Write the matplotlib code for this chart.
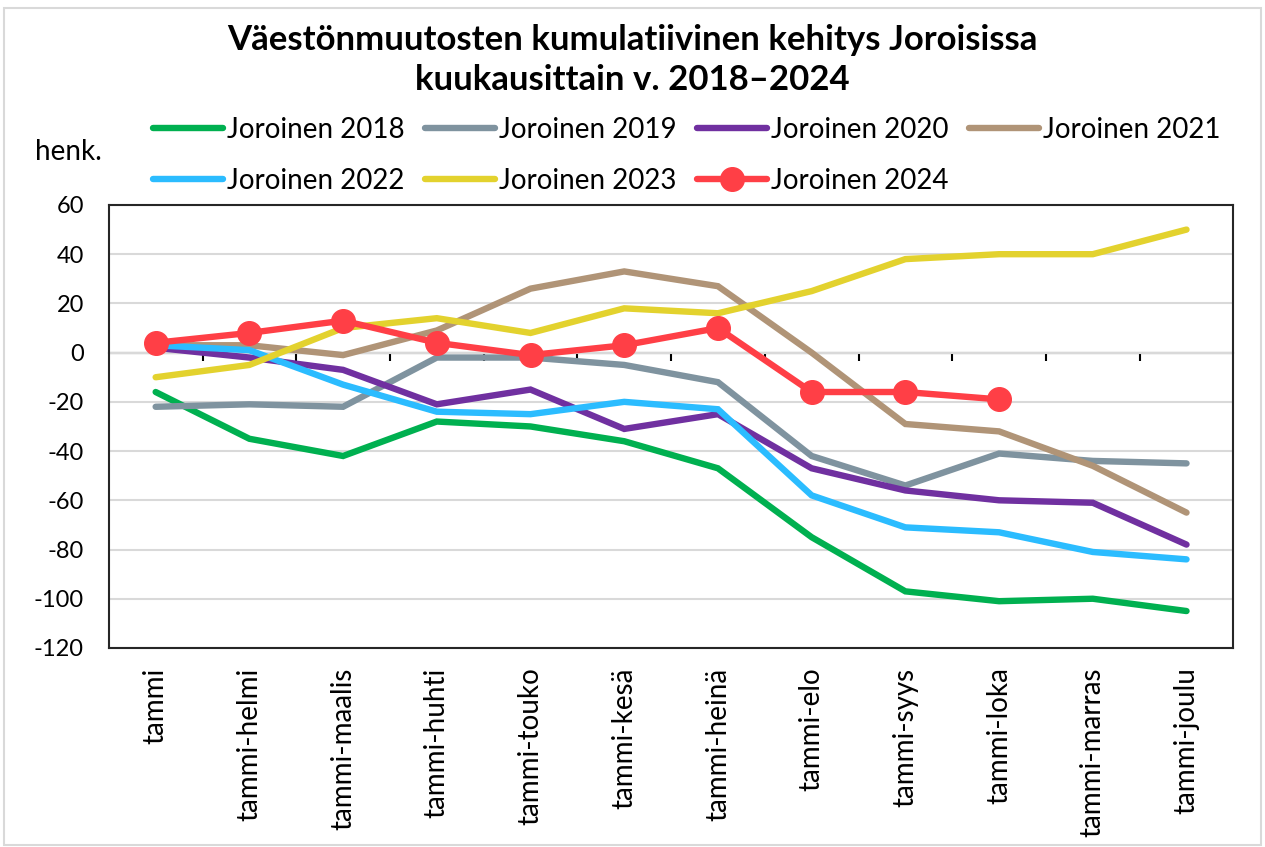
import numpy as np
import matplotlib.pyplot as plt
from matplotlib.patches import Rectangle

plt.rcParams['font.family'] = ['Lato', 'DejaVu Sans']

# kuukaudet (kumulatiivinen)
months = ['tammi', 'tammi-helmi', 'tammi-maalis', 'tammi-huhti', 'tammi-touko',
          'tammi-kesä', 'tammi-heinä', 'tammi-elo', 'tammi-syys', 'tammi-loka',
          'tammi-marras', 'tammi-joulu']

j2018 = [-16, -35, -42, -28, -30, -36, -47, -75, -97, -101, -100, -105]
j2019 = [-22, -21, -22, -2, -2, -5, -12, -42, -54, -41, -44, -45]
j2020 = [2, -2, -7, -21, -15, -31, -25, -47, -56, -60, -61, -78]
j2021 = [3, 3, -1, 9, 26, 33, 27, 0, -29, -32, -46, -65]
j2022 = [3, 1, -13, -24, -25, -20, -23, -58, -71, -73, -81, -84]
j2023 = [-10, -5, 10, 14, 8, 18, 16, 25, 38, 40, 40, 50]
j2024 = [4, 8, 13, 4, -1, 3, 10, -16, -16, -19]

yticks = [60, 40, 20, 0, -20, -40, -60, -80, -100, -120]

series = [
    ('Joroinen 2018', j2018, '#00B050'),
    ('Joroinen 2019', j2019, '#7F939F'),
    ('Joroinen 2020', j2020, '#7030A0'),
    ('Joroinen 2021', j2021, '#B09477'),
    ('Joroinen 2022', j2022, '#2BBCFF'),
    ('Joroinen 2023', j2023, '#E3D22E'),
]

fig = plt.figure(figsize=(12.65, 8.47), dpi=100)
ax = fig.add_axes([0.086, 0.235, 0.889, 0.523])

x = np.arange(len(months))
handles = {}
for name, vals, col in series:
    h, = ax.plot(x[:len(vals)], vals, color=col, lw=4.6, label=name,
                 solid_capstyle='round', solid_joinstyle='miter', zorder=3)
    handles[name] = h
h, = ax.plot(x[:len(j2024)], j2024, color='#FF3F46', lw=4.6, marker='o',
             markersize=17, label='Joroinen 2024', zorder=4,
             solid_capstyle='round')
handles['Joroinen 2024'] = h

ax.set_xlim(-0.5, len(months) - 0.5)
ax.set_ylim(-120, 60)
ax.set_yticks(yticks)
ax.set_yticklabels([str(v) for v in yticks])
ax.yaxis.grid(True, color='#D9D9D9', lw=1.5)
ax.set_axisbelow(True)
ax.tick_params(axis='y', length=0, pad=18, labelsize=17)

ax.set_xticks(x)
ax.set_xticklabels(months, rotation=90, va='top', ha='center')
ax.tick_params(axis='x', length=0, pad=14, labelsize=20)

for s in ax.spines.values():
    s.set_color('#262626')
    s.set_linewidth(1.5)

# vaaka-akseli nollan kohdalla, jakoviivat kuukausien välissä
sec = ax.secondary_xaxis(2 / 3)
sec.set_alignment('bottom')
sec.set_xticks(np.arange(0.5, len(months) - 0.5, 1.0))
sec.tick_params(axis='x', direction='out', length=6, width=1.5,
                labelbottom=False, labeltop=False, color='black')
sec.spines['bottom'].set_linewidth(1.5)
sec.spines['bottom'].set_color('black')

order = ['Joroinen 2018', 'Joroinen 2022', 'Joroinen 2019', 'Joroinen 2023',
         'Joroinen 2020', 'Joroinen 2024', 'Joroinen 2021']
fig.legend([handles[n] for n in order], order, ncol=4, frameon=False,
           loc='center', bbox_to_anchor=(0.543, 0.817), fontsize=20,
           handlelength=2.5, handletextpad=0.15, columnspacing=0.75,
           labelspacing=0.9)

fig.text(0.5, 0.953, 'Väestönmuutosten kumulatiivinen kehitys Joroisissa',
         ha='center', va='center', fontsize=25, fontweight='bold')
fig.text(0.5, 0.906, 'kuukausittain v. 2018–2024',
         ha='center', va='center', fontsize=25, fontweight='bold')
fig.text(0.028, 0.82, 'henk.', ha='left', va='center', fontsize=20)

fig.patches.append(Rectangle((0.003, 0.002), 0.994, 0.988, transform=fig.transFigure,
                             fill=False, edgecolor='#D9D9D9', lw=1.5))

fig.savefig('out.png', dpi=100, facecolor='white')
